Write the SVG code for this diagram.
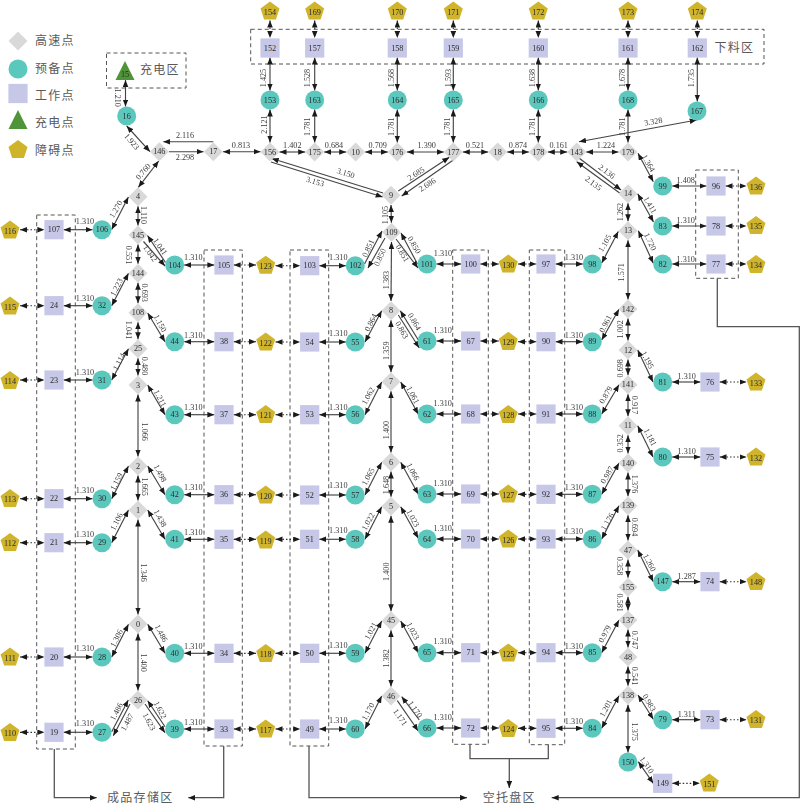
<svg xmlns="http://www.w3.org/2000/svg" width="800" height="804" viewBox="0 0 800 804">
<style>
text{font-family:"Liberation Serif","Noto Serif CJK SC",serif;fill:#3a3a3a;font-size:8.2px;text-anchor:middle;dominant-baseline:central}
.z{font-family:"Liberation Serif","Noto Sans CJK SC",sans-serif;font-size:12px;letter-spacing:1.3px;text-anchor:start;fill:#5a5a5a}
.e line{stroke:#444;stroke-width:1.15;marker-start:url(#a);marker-end:url(#a)}
.e line.o{marker-start:none}
.e line.d{stroke-dasharray:1.5 2;stroke:#333}
.r polyline{fill:none;stroke:#555;stroke-width:1.3}
.r polyline.a{marker-end:url(#a)}
.box{fill:none;stroke:#555;stroke-width:1;stroke-dasharray:4 3}
#labels,#nodes,#legend,#areas{opacity:.995}
#nodes text{fill:#2a2a2a}
</style>
<defs>
<marker id="a" markerUnits="userSpaceOnUse" markerWidth="8" markerHeight="7" refX="7" refY="2.8" orient="auto-start-reverse"><path d="M0 0L7 2.8L0 5.6Z" fill="#1a1a1a"/></marker>
<path id="d" d="M0-9.5L9.5 0L0 9.5L-9.5 0Z" fill="#d9d9d9"/>
<circle id="c" r="9.5" fill="#5bc8bd"/>
<rect id="s" x="-9.6" y="-9.6" width="19.2" height="19.2" fill="#c7c7e8"/>
<path id="t" d="M0-10.5L9.5 8.5L-9.5 8.5Z" fill="#4f9438"/>
<path id="p" d="M0-10L9.5-3.1L5.9 8.1L-5.9 8.1L-9.5-3.1Z" fill="#cfb42b"/>
</defs>
<g id="legend">
<use href="#d" x="18" y="41"/><text class="z" x="35" y="41">高速点</text>
<use href="#c" x="18" y="69"/><text class="z" x="35" y="69">预备点</text>
<use href="#s" x="18" y="93.5"/><text class="z" x="35" y="96">工作点</text>
<use href="#t" x="18" y="120.5"/><text class="z" x="35" y="123">充电点</text>
<use href="#p" x="18" y="150"/><text class="z" x="35" y="151">障碍点</text>
</g>
<g id="areas">
<rect class="box" x="106.5" y="53" width="79.5" height="35"/><text class="z" x="140" y="70">充电区</text>
<rect class="box" x="250.7" y="29.3" width="513.3" height="34.7"/><text class="z" x="714.5" y="48">下料区</text>
<rect class="box" x="695.7" y="170" width="42.6" height="108.3"/>
<rect class="box" x="36.7" y="215" width="38.6" height="534"/>
<rect class="box" x="204" y="250" width="38.3" height="496"/>
<rect class="box" x="290" y="250" width="38.7" height="496"/>
<rect class="box" x="452.7" y="250" width="35.6" height="494.3"/>
<rect class="box" x="529.3" y="250" width="35.4" height="494.7"/>
<text class="z" x="107" y="797.7">成品存储区</text>
<text class="z" x="482.7" y="798">空托盘区</text>
</g>
<g class="r" id="routes">
<polyline class="a" points="54.3,749 54.3,797.7 96.7,797.7"/>
<polyline class="a" points="223.7,746 223.7,797.7 188.3,797.7"/>
<polyline class="a" points="309,746 309,797.7 467,797.7"/>
<polyline points="470,744.3 470,758.7 548.3,758.7 548.3,744.7"/>
<polyline class="a" points="509.3,758.7 509.3,788"/>
<polyline class="a" points="717.3,278.3 717.3,326.7 799.3,326.7 799.3,797.7 551.7,797.7"/>
</g>
<g class="e" id="connectors">
<line x1="125.5" y1="80" x2="125.5" y2="106.5"/>
<line x1="126.7" y1="126" x2="150" y2="151.7"/>
<line x1="158.7" y1="161" x2="138.3" y2="187.3"/>
<line x1="111.7" y1="229.5" x2="128.4" y2="197"/>
<line class="o" x1="213.3" y1="141.7" x2="163.3" y2="141.7"/>
<line class="o" x1="169" y1="151.7" x2="203.5" y2="151.7"/>
<line x1="223" y1="151.7" x2="260.5" y2="151.7"/>
<line x1="279.5" y1="152" x2="305.2" y2="152"/>
<line x1="324.2" y1="152" x2="346.2" y2="152"/>
<line x1="365.2" y1="152" x2="387.8" y2="152"/>
<line x1="406.8" y1="152" x2="443.8" y2="152"/>
<line x1="462.8" y1="152" x2="488.2" y2="152"/>
<line x1="507.2" y1="152" x2="528.8" y2="152"/>
<line x1="547.8" y1="152" x2="567.2" y2="152"/>
<line x1="586.2" y1="152" x2="618.5" y2="152"/>
<line x1="270" y1="109.5" x2="270" y2="142.5"/>
<line x1="270" y1="57.5" x2="270" y2="90.5"/>
<line x1="314.7" y1="57.5" x2="314.7" y2="90.5"/>
<line x1="314.7" y1="109.5" x2="314.7" y2="142.5"/>
<line x1="397.3" y1="57.5" x2="397.3" y2="90.5"/>
<line x1="397.3" y1="109.5" x2="397.3" y2="142.5"/>
<line x1="453.3" y1="57.5" x2="453.3" y2="90.5"/>
<line x1="453.3" y1="109.5" x2="453.3" y2="142.5"/>
<line x1="538.3" y1="57.5" x2="538.3" y2="90.5"/>
<line x1="538.3" y1="109.5" x2="538.3" y2="142.5"/>
<line x1="628" y1="57.5" x2="628" y2="90.5"/>
<line x1="628" y1="109.5" x2="628" y2="142.5"/>
<line x1="697.3" y1="57.5" x2="697.3" y2="101.5"/>
<line class="d" x1="270" y1="20.5" x2="270" y2="38"/>
<line class="d" x1="314.7" y1="20.5" x2="314.7" y2="38"/>
<line class="d" x1="397.3" y1="20.5" x2="397.3" y2="38"/>
<line class="d" x1="453.3" y1="20.5" x2="453.3" y2="38"/>
<line class="d" x1="538.3" y1="20.5" x2="538.3" y2="38"/>
<line class="d" x1="628" y1="20.5" x2="628" y2="38"/>
<line class="d" x1="697.3" y1="20.5" x2="697.3" y2="38"/>
<line class="o" x1="383" y1="193" x2="271.7" y2="158.5"/>
<line class="o" x1="271" y1="162" x2="382.7" y2="197"/>
<line class="o" x1="398.3" y1="191" x2="449.3" y2="157.3"/>
<line class="o" x1="453.3" y1="160" x2="401.7" y2="196"/>
<line class="o" x1="579.3" y1="158.3" x2="621" y2="190"/>
<line class="o" x1="620" y1="193.3" x2="576.7" y2="161.7"/>
<line x1="579" y1="141.7" x2="696.7" y2="120"/>
<line x1="391" y1="205" x2="391.4" y2="222.7"/>
<line x1="391.5" y1="242" x2="391" y2="301"/>
<line class="o" x1="364.5" y1="264" x2="382" y2="231"/>
<line class="o" x1="385" y1="238" x2="368" y2="268"/>
<line class="o" x1="417.5" y1="264" x2="401" y2="233"/>
<line class="o" x1="396" y1="239" x2="418" y2="268"/>
<line x1="638" y1="153.3" x2="653.3" y2="181.7"/>
<line x1="637.7" y1="193.7" x2="653.5" y2="222"/>
<line x1="638.3" y1="230.7" x2="653.3" y2="263.3"/>
<line x1="628" y1="203.2" x2="628" y2="221.2"/>
<line x1="628" y1="240.2" x2="628" y2="299.5"/>
<line x1="601.7" y1="263" x2="618.3" y2="231.5"/>
<line x1="672.2" y1="186" x2="706.5" y2="186"/>
<line x1="672.2" y1="226" x2="706.5" y2="226"/>
<line x1="672.2" y1="264" x2="706.5" y2="264"/>
<line class="d" x1="725.5" y1="186" x2="746.5" y2="186"/>
<line class="d" x1="725.5" y1="226" x2="746.5" y2="226"/>
<line class="d" x1="725.5" y1="264" x2="746.5" y2="264"/>
<line x1="555.5" y1="264" x2="582.8" y2="264"/>
<line x1="555.5" y1="341.7" x2="582.8" y2="341.7"/>
<line x1="555.5" y1="414" x2="582.8" y2="414"/>
<line x1="555.5" y1="494.3" x2="582.8" y2="494.3"/>
<line x1="555.5" y1="539" x2="582.8" y2="539"/>
<line x1="555.5" y1="652.7" x2="582.8" y2="652.7"/>
<line x1="555.5" y1="728.3" x2="582.8" y2="728.3"/>
<line x1="601.7" y1="340" x2="619" y2="309.3"/>
<line x1="628" y1="318.5" x2="628" y2="340.5"/>
<line x1="628" y1="359.5" x2="628" y2="375.2"/>
<line x1="628" y1="394.2" x2="628" y2="416.2"/>
<line x1="628" y1="435.2" x2="628" y2="453.5"/>
<line x1="628" y1="472.5" x2="628" y2="496.2"/>
<line x1="628" y1="515.2" x2="628" y2="540.5"/>
<line x1="628" y1="559.5" x2="628" y2="577.8"/>
<line x1="628" y1="596.8" x2="628" y2="610.5"/>
<line x1="628" y1="629.5" x2="628" y2="647.5"/>
<line x1="628" y1="666.5" x2="628" y2="685.8"/>
<line x1="628" y1="704.8" x2="628" y2="752.5"/>
<line x1="638.3" y1="761.7" x2="653.3" y2="783.3"/>
<line class="d" x1="672.2" y1="783.3" x2="699.8" y2="783.3"/>
<line x1="638" y1="695" x2="653.3" y2="719.3"/>
<line x1="672.2" y1="719.7" x2="700.5" y2="719.7"/>
<line class="d" x1="719.5" y1="719.7" x2="746.5" y2="719.7"/>
<line x1="601.7" y1="728.3" x2="619" y2="695.7"/>
<line x1="601.7" y1="652.7" x2="619" y2="620"/>
<line x1="637.7" y1="550" x2="653.3" y2="581.7"/>
<line x1="672.2" y1="581.7" x2="700.5" y2="581.7"/>
<line class="d" x1="719.5" y1="581.7" x2="746.5" y2="581.7"/>
<line x1="601.7" y1="539" x2="619" y2="505.7"/>
<line x1="601.7" y1="494.3" x2="619" y2="463"/>
<line x1="601.7" y1="414" x2="619" y2="384.7"/>
<line x1="637.7" y1="350" x2="653" y2="382"/>
<line x1="637.7" y1="425.7" x2="653" y2="457"/>
<line x1="672.2" y1="382" x2="700.5" y2="382"/>
<line x1="672.2" y1="457" x2="700.5" y2="457"/>
<line class="d" x1="719.5" y1="382" x2="746.5" y2="382"/>
<line class="d" x1="719.5" y1="457" x2="746.5" y2="457"/>
<line class="d" x1="480.2" y1="264" x2="498.8" y2="264"/>
<line class="d" x1="518" y1="264" x2="536.5" y2="264"/>
<line class="d" x1="480.2" y1="341" x2="498.8" y2="341"/>
<line class="d" x1="518" y1="341.7" x2="536.5" y2="341.7"/>
<line class="d" x1="480.2" y1="414" x2="498.8" y2="414"/>
<line class="d" x1="518" y1="414" x2="536.5" y2="414"/>
<line class="d" x1="480.2" y1="494" x2="498.8" y2="494"/>
<line class="d" x1="518" y1="494.3" x2="536.5" y2="494.3"/>
<line class="d" x1="480.2" y1="539" x2="498.8" y2="539"/>
<line class="d" x1="518" y1="539" x2="536.5" y2="539"/>
<line class="d" x1="480.2" y1="652.7" x2="498.8" y2="652.7"/>
<line class="d" x1="518" y1="652.7" x2="536.5" y2="652.7"/>
<line class="d" x1="480.2" y1="728" x2="498.8" y2="728"/>
<line class="d" x1="518" y1="728.3" x2="536.5" y2="728.3"/>
<line x1="436.5" y1="264" x2="461.2" y2="264"/>
<line x1="436.5" y1="341" x2="461.2" y2="341"/>
<line x1="436.5" y1="414" x2="461.2" y2="414"/>
<line x1="436.5" y1="494" x2="461.2" y2="494"/>
<line x1="436.5" y1="539" x2="461.2" y2="539"/>
<line x1="436.5" y1="652.7" x2="461.2" y2="652.7"/>
<line x1="436.5" y1="728" x2="461.2" y2="728"/>
<line x1="319.2" y1="265.7" x2="345.8" y2="265.7"/>
<line x1="319.2" y1="342" x2="345.8" y2="342"/>
<line x1="319.2" y1="414.7" x2="345.8" y2="414.7"/>
<line x1="319.2" y1="495" x2="345.8" y2="495"/>
<line x1="319.2" y1="539.3" x2="345.8" y2="539.3"/>
<line x1="319.2" y1="653.3" x2="345.8" y2="653.3"/>
<line x1="319.2" y1="729" x2="345.8" y2="729"/>
<line class="d" x1="275.5" y1="265.7" x2="300.2" y2="265.7"/>
<line class="d" x1="275.5" y1="342" x2="300.2" y2="342"/>
<line class="d" x1="275.5" y1="414.7" x2="300.2" y2="414.7"/>
<line class="d" x1="275.5" y1="495" x2="300.2" y2="495"/>
<line class="d" x1="275.5" y1="539.3" x2="300.2" y2="539.3"/>
<line class="d" x1="275.5" y1="653.3" x2="300.2" y2="653.3"/>
<line class="d" x1="275.5" y1="729" x2="300.2" y2="729"/>
<line class="d" x1="233.6" y1="265" x2="256" y2="265"/>
<line class="d" x1="233.6" y1="341.7" x2="256" y2="341.7"/>
<line class="d" x1="233.6" y1="414.7" x2="256" y2="414.7"/>
<line class="d" x1="233.6" y1="494.7" x2="256" y2="494.7"/>
<line class="d" x1="233.6" y1="539.3" x2="256" y2="539.3"/>
<line class="d" x1="233.6" y1="653.3" x2="256" y2="653.3"/>
<line class="d" x1="233.6" y1="729" x2="256" y2="729"/>
<line x1="184.2" y1="265" x2="214.4" y2="265"/>
<line x1="184.2" y1="341.7" x2="214.4" y2="341.7"/>
<line x1="184.2" y1="414.7" x2="214.4" y2="414.7"/>
<line x1="184.2" y1="494.7" x2="214.4" y2="494.7"/>
<line x1="184.2" y1="539.3" x2="214.4" y2="539.3"/>
<line x1="184.2" y1="653.3" x2="214.4" y2="653.3"/>
<line x1="184.2" y1="729" x2="214.4" y2="729"/>
<line x1="63.6" y1="229.7" x2="92.5" y2="229.7"/>
<line x1="63.6" y1="305.7" x2="92.5" y2="305.7"/>
<line x1="63.6" y1="380" x2="92.5" y2="380"/>
<line x1="63.6" y1="498.7" x2="92.5" y2="498.7"/>
<line x1="63.6" y1="542.7" x2="92.5" y2="542.7"/>
<line x1="63.6" y1="657" x2="92.5" y2="657"/>
<line x1="63.6" y1="732.3" x2="92.5" y2="732.3"/>
<line class="d" x1="20" y1="229.7" x2="44.4" y2="229.7"/>
<line class="d" x1="20" y1="305.7" x2="44.4" y2="305.7"/>
<line class="d" x1="20" y1="380" x2="44.4" y2="380"/>
<line class="d" x1="20" y1="498.7" x2="44.4" y2="498.7"/>
<line class="d" x1="20" y1="542.7" x2="44.4" y2="542.7"/>
<line class="d" x1="20" y1="657" x2="44.4" y2="657"/>
<line class="d" x1="20" y1="732.3" x2="44.4" y2="732.3"/>
<line x1="365" y1="342" x2="381.7" y2="310.7"/>
<line class="o" x1="418.3" y1="340" x2="400.3" y2="310.7"/>
<line class="o" x1="398.3" y1="315" x2="419.3" y2="348"/>
<line x1="365" y1="414.7" x2="381.7" y2="382"/>
<line x1="400.7" y1="382" x2="418.3" y2="414.3"/>
<line x1="365" y1="495" x2="381.7" y2="462.3"/>
<line x1="400.7" y1="462.3" x2="418.3" y2="494.3"/>
<line x1="365" y1="539.3" x2="381.7" y2="506.7"/>
<line x1="400.7" y1="506.7" x2="418.3" y2="538.3"/>
<line x1="365" y1="653.3" x2="381.7" y2="621"/>
<line x1="400.7" y1="621" x2="418.3" y2="652.7"/>
<line x1="365" y1="729" x2="381.7" y2="696"/>
<line class="o" x1="419.3" y1="720" x2="401.7" y2="696.7"/>
<line class="o" x1="397.3" y1="700.7" x2="418.3" y2="731"/>
<line x1="391" y1="320.2" x2="391" y2="372.2"/>
<line x1="391" y1="391.2" x2="391" y2="452.5"/>
<line x1="391" y1="471.5" x2="391" y2="496.8"/>
<line x1="391" y1="515.8" x2="391" y2="611.2"/>
<line x1="391" y1="630.2" x2="391" y2="686.5"/>
<line x1="138" y1="206.2" x2="138" y2="225.5"/>
<line x1="138" y1="244.5" x2="138" y2="263.8"/>
<line x1="138" y1="282.8" x2="138" y2="303.2"/>
<line x1="138" y1="322.2" x2="138" y2="339.2"/>
<line x1="138" y1="358.2" x2="138" y2="375.5"/>
<line x1="138" y1="394.5" x2="138" y2="456.5"/>
<line x1="138" y1="475.5" x2="138" y2="500.5"/>
<line x1="138" y1="519.5" x2="138" y2="614.5"/>
<line x1="138" y1="633.5" x2="138" y2="690.5"/>
<line class="o" x1="143.5" y1="241.5" x2="165" y2="266"/>
<line class="o" x1="165.5" y1="262.5" x2="147.5" y2="235.5"/>
<line x1="111.7" y1="305.7" x2="128.5" y2="273.3"/>
<line x1="111.7" y1="380" x2="128.5" y2="348.7"/>
<line x1="111.7" y1="498.7" x2="128.5" y2="466"/>
<line x1="111.7" y1="542.7" x2="128.5" y2="510"/>
<line x1="111.7" y1="657" x2="128.5" y2="624.3"/>
<line class="o" x1="111.7" y1="731.7" x2="128.3" y2="700"/>
<line class="o" x1="130" y1="704" x2="113.3" y2="735.7"/>
<line x1="147.7" y1="313" x2="165" y2="341.7"/>
<line x1="147.7" y1="385" x2="165" y2="414.7"/>
<line x1="147.7" y1="466" x2="165" y2="494.7"/>
<line x1="147.7" y1="510" x2="165" y2="539.3"/>
<line x1="147.7" y1="624.3" x2="165" y2="653.3"/>
<line class="o" x1="165" y1="726.7" x2="147.7" y2="700.7"/>
<line class="o" x1="145" y1="704" x2="165" y2="732.7"/>
</g>
<g id="labels">
<text transform="translate(117.3 97.7) rotate(90)">1.210</text>
<text transform="translate(131.7 141.7) rotate(50)">1.923</text>
<text transform="translate(143.3 171.7) rotate(-50)">0.760</text>
<text transform="translate(116 209.3) rotate(-60)">1.270</text>
<text x="185" y="135">2.116</text><text x="185" y="157.3">2.298</text>
<text x="241" y="145">0.813</text><text x="292.3" y="145">1.402</text><text x="334" y="145">0.684</text><text x="377.7" y="145">0.709</text><text x="426.7" y="145">1.390</text><text x="475" y="145">0.521</text><text x="518" y="145">0.874</text><text x="558.7" y="145">0.161</text><text x="606" y="145">1.224</text>
<text transform="translate(264 124.5) rotate(-90)">2.121</text>
<text transform="translate(263.3 78) rotate(-90)">1.425</text>
<text transform="translate(307.7 78) rotate(-90)">1.528</text>
<text transform="translate(307.7 126.7) rotate(-90)">1.781</text>
<text transform="translate(391.7 78) rotate(-90)">1.568</text>
<text transform="translate(391.7 126.7) rotate(-90)">1.781</text>
<text transform="translate(448 78) rotate(-90)">1.593</text>
<text transform="translate(447.7 126.7) rotate(-90)">1.781</text>
<text transform="translate(532.3 78) rotate(-90)">1.638</text>
<text transform="translate(532 126.7) rotate(-90)">1.781</text>
<text transform="translate(622.3 78) rotate(-90)">1.678</text>
<text transform="translate(622 126.7) rotate(-90)">1.781</text>
<text transform="translate(691.7 78) rotate(-90)">1.735</text>
<text transform="translate(345.7 173.3) rotate(17)">3.150</text>
<text transform="translate(315 181.7) rotate(17)">3.153</text>
<text transform="translate(416 174) rotate(-33)">2.685</text>
<text transform="translate(427.3 185) rotate(-33)">2.686</text>
<text transform="translate(606.7 171.7) rotate(37)">2.136</text>
<text transform="translate(593.3 183.3) rotate(37)">2.135</text>
<text transform="translate(653.3 121.7) rotate(-10)">3.328</text>
<text transform="translate(385 215) rotate(-90)">1.105</text>
<text transform="translate(386.7 280) rotate(-90)">1.383</text>
<text transform="translate(368.3 248.3) rotate(-65)">0.851</text>
<text transform="translate(380 257.3) rotate(-65)">0.850</text>
<text transform="translate(414 245) rotate(60)">0.850</text>
<text transform="translate(402.3 253.3) rotate(60)">0.851</text>
<text transform="translate(160 246.7) rotate(55)">1.041</text>
<text transform="translate(150 253.3) rotate(55)">1.042</text>
<text transform="translate(648.3 163.3) rotate(60)">1.364</text>
<text transform="translate(650 205) rotate(60)">1.411</text>
<text transform="translate(650 241.7) rotate(65)">1.720</text>
<text transform="translate(620.7 212) rotate(-90)">1.262</text>
<text transform="translate(621.7 272.3) rotate(-90)">1.571</text>
<text transform="translate(605 243.3) rotate(-60)">1.105</text>
<text x="685.7" y="180.7">1.408</text><text x="685.7" y="220.5">1.310</text><text x="685.7" y="259">1.310</text>
<text x="574" y="257.3">1.310</text><text x="574" y="335">1.310</text><text x="574" y="407">1.310</text><text x="574" y="487">1.310</text><text x="574" y="531">1.310</text><text x="574" y="646">1.310</text><text x="574" y="721.7">1.310</text>
<text transform="translate(605.7 324) rotate(-63)">0.961</text>
<text transform="translate(620.7 329.3) rotate(-90)">1.002</text>
<text transform="translate(620.7 368.3) rotate(-90)">0.698</text>
<text transform="translate(634.3 405) rotate(90)">0.917</text>
<text transform="translate(620.7 443.3) rotate(-90)">0.352</text>
<text transform="translate(634.3 484) rotate(90)">1.376</text>
<text transform="translate(634.3 527) rotate(90)">0.694</text>
<text transform="translate(619.3 566) rotate(90)">0.358</text>
<text transform="translate(619.3 602.7) rotate(90)">0.581</text>
<text transform="translate(634.3 640) rotate(90)">0.747</text>
<text transform="translate(634.3 676) rotate(90)">0.541</text>
<text transform="translate(634.3 731.7) rotate(90)">1.375</text>
<text transform="translate(646.7 765) rotate(55)">1.310</text>
<text transform="translate(649 702.7) rotate(60)">0.983</text>
<text transform="translate(606 708.3) rotate(-62)">1.201</text>
<text transform="translate(605 634) rotate(-62)">0.979</text>
<text transform="translate(649.3 562.7) rotate(62)">1.260</text>
<text transform="translate(607.7 521.7) rotate(-60)">1.176</text>
<text transform="translate(607.3 475) rotate(-60)">0.987</text>
<text transform="translate(606 395) rotate(-60)">0.879</text>
<text transform="translate(647.3 360) rotate(62)">1.195</text>
<text transform="translate(650 437.3) rotate(62)">1.181</text>
<text x="686.7" y="714">1.311</text><text x="686.7" y="576.5">1.287</text><text x="686.7" y="376.5">1.310</text><text x="686.7" y="451.5">1.310</text>
<text x="443" y="253.3">1.310</text><text x="442.7" y="330">1.310</text><text x="442.7" y="403.3">1.310</text><text x="442.7" y="483.3">1.310</text><text x="442.7" y="528">1.310</text><text x="442.7" y="641">1.310</text><text x="442.7" y="717.7">1.310</text>
<text x="338.3" y="257.3">1.310</text><text x="338.3" y="333.3">1.310</text><text x="338.3" y="407.3">1.310</text><text x="338.3" y="485.7">1.310</text><text x="338.3" y="530.5">1.310</text><text x="338.3" y="645">1.310</text><text x="338.3" y="720">1.310</text>
<text x="193.3" y="257.3">1.310</text><text x="193.3" y="335">1.310</text><text x="193.3" y="407.3">1.310</text><text x="193.3" y="487.7">1.310</text><text x="193.3" y="532.3">1.310</text><text x="193.3" y="646">1.310</text><text x="193.3" y="722">1.310</text>
<text x="85" y="221.7">1.310</text><text x="85" y="298.3">1.310</text><text x="85" y="372.7">1.310</text><text x="85" y="490">1.310</text><text x="85" y="534">1.310</text><text x="85" y="648.3">1.310</text><text x="85" y="723.7">1.310</text>
<text transform="translate(371 322.7) rotate(-62)">0.864</text>
<text transform="translate(414.3 321.7) rotate(60)">0.864</text>
<text transform="translate(401.7 330) rotate(60)">0.863</text>
<text transform="translate(368.3 396) rotate(-62)">1.062</text>
<text transform="translate(412.7 395) rotate(62)">1.061</text>
<text transform="translate(368.3 476.7) rotate(-62)">1.065</text>
<text transform="translate(412.7 471.7) rotate(62)">1.066</text>
<text transform="translate(368.3 521.7) rotate(-62)">1.022</text>
<text transform="translate(412.7 518.3) rotate(62)">1.023</text>
<text transform="translate(371 631) rotate(-62)">1.021</text>
<text transform="translate(412.7 631) rotate(62)">1.023</text>
<text transform="translate(368.3 711.7) rotate(-62)">1.170</text>
<text transform="translate(415 709.3) rotate(55)">1.170</text>
<text transform="translate(400 717.3) rotate(55)">1.171</text>
<text transform="translate(386 350.7) rotate(-90)">1.359</text>
<text transform="translate(386 430) rotate(-90)">1.400</text>
<text transform="translate(386 485) rotate(-90)">1.648</text>
<text transform="translate(386 571.7) rotate(-90)">1.400</text>
<text transform="translate(386 658.3) rotate(-90)">1.382</text>
<text transform="translate(143.3 215) rotate(90)">1.110</text>
<text transform="translate(128.3 255) rotate(90)">0.551</text>
<text transform="translate(144 292.7) rotate(90)">0.693</text>
<text transform="translate(128.3 330) rotate(90)">1.041</text>
<text transform="translate(144 366) rotate(90)">0.480</text>
<text transform="translate(144 431.7) rotate(90)">1.066</text>
<text transform="translate(144 486.7) rotate(90)">1.665</text>
<text transform="translate(143.3 572.7) rotate(90)">1.346</text>
<text transform="translate(143.3 662.7) rotate(90)">1.400</text>
<text transform="translate(116.7 287.3) rotate(-63)">1.223</text>
<text transform="translate(119.3 361.7) rotate(-63)">1.114</text>
<text transform="translate(116.7 481.7) rotate(-63)">1.159</text>
<text transform="translate(116.7 521.7) rotate(-63)">1.106</text>
<text transform="translate(116.7 638.3) rotate(-63)">1.306</text>
<text transform="translate(116.7 711.7) rotate(-62)">1.486</text>
<text transform="translate(127.3 722.3) rotate(-62)">1.487</text>
<text transform="translate(160 323.3) rotate(62)">1.150</text>
<text transform="translate(160 398.3) rotate(62)">1.211</text>
<text transform="translate(160 473.3) rotate(62)">1.498</text>
<text transform="translate(160 518.3) rotate(62)">1.438</text>
<text transform="translate(161 633.3) rotate(62)">1.486</text>
<text transform="translate(160 710) rotate(62)">1.622</text>
<text transform="translate(149 721.7) rotate(62)">1.623</text>
</g>
<g id="nodes">
<g id="n15"><use href="#t" x="125" y="71.5"/><text x="125" y="74">15</text></g>
<g id="n16"><use href="#c" x="126.7" y="116"/><text x="126.7" y="116">16</text></g>
<g id="n146"><use href="#d" x="159.3" y="151.7"/><text x="159.3" y="151.7">146</text></g>
<g id="n17"><use href="#d" x="213.3" y="151.7"/><text x="213.3" y="151.7">17</text></g>
<g id="n156"><use href="#d" x="270" y="152"/><text x="270" y="152">156</text></g>
<g id="n175"><use href="#d" x="314.7" y="152"/><text x="314.7" y="152">175</text></g>
<g id="n10"><use href="#d" x="355.7" y="152"/><text x="355.7" y="152">10</text></g>
<g id="n176"><use href="#d" x="397.3" y="152"/><text x="397.3" y="152">176</text></g>
<g id="n177"><use href="#d" x="453.3" y="152"/><text x="453.3" y="152">177</text></g>
<g id="n18"><use href="#d" x="497.7" y="152"/><text x="497.7" y="152">18</text></g>
<g id="n178"><use href="#d" x="538.3" y="152"/><text x="538.3" y="152">178</text></g>
<g id="n143"><use href="#d" x="576.7" y="152"/><text x="576.7" y="152">143</text></g>
<g id="n179"><use href="#d" x="628" y="152"/><text x="628" y="152">179</text></g>
<g id="n152"><use href="#s" x="270" y="48"/><text x="270" y="48">152</text></g>
<g id="n157"><use href="#s" x="314.7" y="48"/><text x="314.7" y="48">157</text></g>
<g id="n158"><use href="#s" x="397.3" y="48"/><text x="397.3" y="48">158</text></g>
<g id="n159"><use href="#s" x="453.3" y="48"/><text x="453.3" y="48">159</text></g>
<g id="n160"><use href="#s" x="538.3" y="48"/><text x="538.3" y="48">160</text></g>
<g id="n161"><use href="#s" x="628" y="48"/><text x="628" y="48">161</text></g>
<g id="n162"><use href="#s" x="697.3" y="48"/><text x="697.3" y="48">162</text></g>
<g id="n154"><use href="#p" x="270" y="11.5"/><text x="270" y="12">154</text></g>
<g id="n169"><use href="#p" x="314.7" y="11.5"/><text x="314.7" y="12">169</text></g>
<g id="n170"><use href="#p" x="397.3" y="11.5"/><text x="397.3" y="12">170</text></g>
<g id="n171"><use href="#p" x="453.3" y="11.5"/><text x="453.3" y="12">171</text></g>
<g id="n172"><use href="#p" x="538.3" y="11.5"/><text x="538.3" y="12">172</text></g>
<g id="n173"><use href="#p" x="628" y="11.5"/><text x="628" y="12">173</text></g>
<g id="n174"><use href="#p" x="697.3" y="11.5"/><text x="697.3" y="12">174</text></g>
<g id="n153"><use href="#c" x="270" y="100"/><text x="270" y="100">153</text></g>
<g id="n163"><use href="#c" x="314.7" y="100"/><text x="314.7" y="100">163</text></g>
<g id="n164"><use href="#c" x="397.3" y="100"/><text x="397.3" y="100">164</text></g>
<g id="n165"><use href="#c" x="453.3" y="100"/><text x="453.3" y="100">165</text></g>
<g id="n166"><use href="#c" x="538.3" y="100"/><text x="538.3" y="100">166</text></g>
<g id="n168"><use href="#c" x="628" y="100"/><text x="628" y="100">168</text></g>
<g id="n167"><use href="#c" x="697" y="111"/><text x="697" y="111">167</text></g>
<g id="n9"><use href="#d" x="391" y="195.3"/><text x="391" y="195.3">9</text></g>
<g id="n109"><use href="#d" x="391.5" y="232.3"/><text x="391.5" y="232.3">109</text></g>
<g id="n102"><use href="#c" x="355.3" y="265.7"/><text x="355.3" y="265.7">102</text></g>
<g id="n103"><use href="#s" x="309.7" y="265.7"/><text x="309.7" y="265.7">103</text></g>
<g id="n123"><use href="#p" x="265.7" y="265.7"/><text x="265.7" y="266">123</text></g>
<g id="n101"><use href="#c" x="427" y="264"/><text x="427" y="264">101</text></g>
<g id="n100"><use href="#s" x="470.7" y="264"/><text x="470.7" y="264">100</text></g>
<g id="n130"><use href="#p" x="508.3" y="264.5"/><text x="508.3" y="265">130</text></g>
<g id="n97"><use href="#s" x="546" y="264"/><text x="546" y="264">97</text></g>
<g id="n98"><use href="#c" x="592.3" y="264"/><text x="592.3" y="264">98</text></g>
<g id="n13"><use href="#d" x="628" y="230.7"/><text x="628" y="230.7">13</text></g>
<g id="n14"><use href="#d" x="628" y="193.7"/><text x="628" y="193.7">14</text></g>
<g id="n99"><use href="#c" x="662.7" y="186"/><text x="662.7" y="186">99</text></g>
<g id="n96"><use href="#s" x="716" y="186"/><text x="716" y="186">96</text></g>
<g id="n136"><use href="#p" x="756" y="186.5"/><text x="756" y="187">136</text></g>
<g id="n83"><use href="#c" x="662.7" y="226"/><text x="662.7" y="226">83</text></g>
<g id="n78"><use href="#s" x="716" y="226"/><text x="716" y="226">78</text></g>
<g id="n135"><use href="#p" x="756" y="226"/><text x="756" y="226.5">135</text></g>
<g id="n82"><use href="#c" x="662.7" y="264"/><text x="662.7" y="264">82</text></g>
<g id="n77"><use href="#s" x="716" y="264"/><text x="716" y="264">77</text></g>
<g id="n134"><use href="#p" x="756" y="265"/><text x="756" y="265.5">134</text></g>
<g id="n142"><use href="#d" x="628" y="309"/><text x="628" y="309">142</text></g>
<g id="n12"><use href="#d" x="628" y="350"/><text x="628" y="350">12</text></g>
<g id="n141"><use href="#d" x="628" y="384.7"/><text x="628" y="384.7">141</text></g>
<g id="n11"><use href="#d" x="628" y="425.7"/><text x="628" y="425.7">11</text></g>
<g id="n140"><use href="#d" x="628" y="463"/><text x="628" y="463">140</text></g>
<g id="n139"><use href="#d" x="628" y="505.7"/><text x="628" y="505.7">139</text></g>
<g id="n47"><use href="#d" x="628" y="550"/><text x="628" y="550">47</text></g>
<g id="n155"><use href="#d" x="628" y="587.3"/><text x="628" y="587.3">155</text></g>
<g id="n137"><use href="#d" x="628" y="620"/><text x="628" y="620">137</text></g>
<g id="n48"><use href="#d" x="628" y="657"/><text x="628" y="657">48</text></g>
<g id="n138"><use href="#d" x="628" y="695.3"/><text x="628" y="695.3">138</text></g>
<g id="n150"><use href="#c" x="628" y="762"/><text x="628" y="762">150</text></g>
<g id="n89"><use href="#c" x="592.3" y="341.7"/><text x="592.3" y="341.7">89</text></g>
<g id="n90"><use href="#s" x="546" y="341.7"/><text x="546" y="341.7">90</text></g>
<g id="n88"><use href="#c" x="592.3" y="414"/><text x="592.3" y="414">88</text></g>
<g id="n91"><use href="#s" x="546" y="414"/><text x="546" y="414">91</text></g>
<g id="n87"><use href="#c" x="592.3" y="494.3"/><text x="592.3" y="494.3">87</text></g>
<g id="n92"><use href="#s" x="546" y="494.3"/><text x="546" y="494.3">92</text></g>
<g id="n86"><use href="#c" x="592.3" y="539"/><text x="592.3" y="539">86</text></g>
<g id="n93"><use href="#s" x="546" y="539"/><text x="546" y="539">93</text></g>
<g id="n85"><use href="#c" x="592.3" y="652.7"/><text x="592.3" y="652.7">85</text></g>
<g id="n94"><use href="#s" x="546" y="652.7"/><text x="546" y="652.7">94</text></g>
<g id="n84"><use href="#c" x="592.3" y="728.3"/><text x="592.3" y="728.3">84</text></g>
<g id="n95"><use href="#s" x="546" y="728.3"/><text x="546" y="728.3">95</text></g>
<g id="n81"><use href="#c" x="662.7" y="382"/><text x="662.7" y="382">81</text></g>
<g id="n76"><use href="#s" x="710" y="382"/><text x="710" y="382">76</text></g>
<g id="n133"><use href="#p" x="756" y="382.5"/><text x="756" y="383">133</text></g>
<g id="n80"><use href="#c" x="662.7" y="457"/><text x="662.7" y="457">80</text></g>
<g id="n75"><use href="#s" x="710" y="457"/><text x="710" y="457">75</text></g>
<g id="n132"><use href="#p" x="756" y="457.5"/><text x="756" y="458">132</text></g>
<g id="n147"><use href="#c" x="662.7" y="581.7"/><text x="662.7" y="581.7">147</text></g>
<g id="n74"><use href="#s" x="710" y="581.7"/><text x="710" y="581.7">74</text></g>
<g id="n148"><use href="#p" x="756" y="582"/><text x="756" y="582.5">148</text></g>
<g id="n79"><use href="#c" x="662.7" y="719.7"/><text x="662.7" y="719.7">79</text></g>
<g id="n73"><use href="#s" x="710" y="719.7"/><text x="710" y="719.7">73</text></g>
<g id="n131"><use href="#p" x="756" y="720"/><text x="756" y="720.5">131</text></g>
<g id="n149"><use href="#s" x="662.7" y="783.3"/><text x="662.7" y="783.3">149</text></g>
<g id="n151"><use href="#p" x="709.3" y="783.5"/><text x="709.3" y="784">151</text></g>
<g id="n8"><use href="#d" x="391" y="310.7"/><text x="391" y="310.7">8</text></g>
<g id="n7"><use href="#d" x="391" y="381.7"/><text x="391" y="381.7">7</text></g>
<g id="n6"><use href="#d" x="391" y="462"/><text x="391" y="462">6</text></g>
<g id="n5"><use href="#d" x="391" y="506.3"/><text x="391" y="506.3">5</text></g>
<g id="n45"><use href="#d" x="391" y="620.7"/><text x="391" y="620.7">45</text></g>
<g id="n46"><use href="#d" x="391" y="696"/><text x="391" y="696">46</text></g>
<g id="n55"><use href="#c" x="355.3" y="342"/><text x="355.3" y="342">55</text></g>
<g id="n54"><use href="#s" x="309.7" y="342"/><text x="309.7" y="342">54</text></g>
<g id="n122"><use href="#p" x="265.7" y="342.5"/><text x="265.7" y="343">122</text></g>
<g id="n61"><use href="#c" x="427" y="341"/><text x="427" y="341">61</text></g>
<g id="n67"><use href="#s" x="470.7" y="341"/><text x="470.7" y="341">67</text></g>
<g id="n129"><use href="#p" x="508.3" y="341.8"/><text x="508.3" y="342.3">129</text></g>
<g id="n56"><use href="#c" x="355.3" y="414.7"/><text x="355.3" y="414.7">56</text></g>
<g id="n53"><use href="#s" x="309.7" y="414.7"/><text x="309.7" y="414.7">53</text></g>
<g id="n121"><use href="#p" x="265.7" y="415"/><text x="265.7" y="415.5">121</text></g>
<g id="n62"><use href="#c" x="427" y="414"/><text x="427" y="414">62</text></g>
<g id="n68"><use href="#s" x="470.7" y="414"/><text x="470.7" y="414">68</text></g>
<g id="n128"><use href="#p" x="508.3" y="415"/><text x="508.3" y="415.7">128</text></g>
<g id="n57"><use href="#c" x="355.3" y="495"/><text x="355.3" y="495">57</text></g>
<g id="n52"><use href="#s" x="309.7" y="495"/><text x="309.7" y="495">52</text></g>
<g id="n120"><use href="#p" x="265.7" y="495.5"/><text x="265.7" y="496">120</text></g>
<g id="n63"><use href="#c" x="427" y="494"/><text x="427" y="494">63</text></g>
<g id="n69"><use href="#s" x="470.7" y="494"/><text x="470.7" y="494">69</text></g>
<g id="n127"><use href="#p" x="508.3" y="494.5"/><text x="508.3" y="495">127</text></g>
<g id="n58"><use href="#c" x="355.3" y="539.3"/><text x="355.3" y="539.3">58</text></g>
<g id="n51"><use href="#s" x="309.7" y="539.3"/><text x="309.7" y="539.3">51</text></g>
<g id="n119"><use href="#p" x="265.7" y="540.5"/><text x="265.7" y="541">119</text></g>
<g id="n64"><use href="#c" x="427" y="539"/><text x="427" y="539">64</text></g>
<g id="n70"><use href="#s" x="470.7" y="539"/><text x="470.7" y="539">70</text></g>
<g id="n126"><use href="#p" x="508.3" y="539.5"/><text x="508.3" y="540">126</text></g>
<g id="n59"><use href="#c" x="355.3" y="653.3"/><text x="355.3" y="653.3">59</text></g>
<g id="n50"><use href="#s" x="309.7" y="653.3"/><text x="309.7" y="653.3">50</text></g>
<g id="n118"><use href="#p" x="265.7" y="654"/><text x="265.7" y="654.5">118</text></g>
<g id="n65"><use href="#c" x="427" y="652.7"/><text x="427" y="652.7">65</text></g>
<g id="n71"><use href="#s" x="470.7" y="652.7"/><text x="470.7" y="652.7">71</text></g>
<g id="n125"><use href="#p" x="508.3" y="653.5"/><text x="508.3" y="654">125</text></g>
<g id="n60"><use href="#c" x="355.3" y="729"/><text x="355.3" y="729">60</text></g>
<g id="n49"><use href="#s" x="309.7" y="729"/><text x="309.7" y="729">49</text></g>
<g id="n117"><use href="#p" x="265.7" y="729.5"/><text x="265.7" y="730">117</text></g>
<g id="n66"><use href="#c" x="427" y="728"/><text x="427" y="728">66</text></g>
<g id="n72"><use href="#s" x="470.7" y="728"/><text x="470.7" y="728">72</text></g>
<g id="n124"><use href="#p" x="508.3" y="729"/><text x="508.3" y="729.5">124</text></g>
<g id="n4"><use href="#d" x="138" y="196.7"/><text x="138" y="196.7">4</text></g>
<g id="n145"><use href="#d" x="138" y="235"/><text x="138" y="235">145</text></g>
<g id="n144"><use href="#d" x="138" y="273.3"/><text x="138" y="273.3">144</text></g>
<g id="n108"><use href="#d" x="138" y="312.7"/><text x="138" y="312.7">108</text></g>
<g id="n25"><use href="#d" x="138" y="348.7"/><text x="138" y="348.7">25</text></g>
<g id="n3"><use href="#d" x="138" y="385"/><text x="138" y="385">3</text></g>
<g id="n2"><use href="#d" x="138" y="466"/><text x="138" y="466">2</text></g>
<g id="n1"><use href="#d" x="138" y="510"/><text x="138" y="510">1</text></g>
<g id="n0"><use href="#d" x="138" y="624"/><text x="138" y="624">0</text></g>
<g id="n26"><use href="#d" x="138" y="700"/><text x="138" y="700">26</text></g>
<g id="n106"><use href="#c" x="102" y="229.7"/><text x="102" y="229.7">106</text></g>
<g id="n107"><use href="#s" x="54" y="229.7"/><text x="54" y="229.7">107</text></g>
<g id="n116"><use href="#p" x="10" y="230.5"/><text x="10" y="231">116</text></g>
<g id="n104"><use href="#c" x="174.7" y="265"/><text x="174.7" y="265">104</text></g>
<g id="n105"><use href="#s" x="224" y="265"/><text x="224" y="265">105</text></g>
<g id="n32"><use href="#c" x="102" y="305.7"/><text x="102" y="305.7">32</text></g>
<g id="n24"><use href="#s" x="54" y="305.7"/><text x="54" y="305.7">24</text></g>
<g id="n115"><use href="#p" x="10" y="306.5"/><text x="10" y="307">115</text></g>
<g id="n44"><use href="#c" x="174.7" y="341.7"/><text x="174.7" y="341.7">44</text></g>
<g id="n38"><use href="#s" x="224" y="341.7"/><text x="224" y="341.7">38</text></g>
<g id="n31"><use href="#c" x="102" y="380"/><text x="102" y="380">31</text></g>
<g id="n23"><use href="#s" x="54" y="380"/><text x="54" y="380">23</text></g>
<g id="n114"><use href="#p" x="10" y="381"/><text x="10" y="381.5">114</text></g>
<g id="n43"><use href="#c" x="174.7" y="414.7"/><text x="174.7" y="414.7">43</text></g>
<g id="n37"><use href="#s" x="224" y="414.7"/><text x="224" y="414.7">37</text></g>
<g id="n30"><use href="#c" x="102" y="498.7"/><text x="102" y="498.7">30</text></g>
<g id="n22"><use href="#s" x="54" y="498.7"/><text x="54" y="498.7">22</text></g>
<g id="n113"><use href="#p" x="10" y="499"/><text x="10" y="499.5">113</text></g>
<g id="n42"><use href="#c" x="174.7" y="494.7"/><text x="174.7" y="494.7">42</text></g>
<g id="n36"><use href="#s" x="224" y="494.7"/><text x="224" y="494.7">36</text></g>
<g id="n29"><use href="#c" x="102" y="542.7"/><text x="102" y="542.7">29</text></g>
<g id="n21"><use href="#s" x="54" y="542.7"/><text x="54" y="542.7">21</text></g>
<g id="n112"><use href="#p" x="10" y="543"/><text x="10" y="543.5">112</text></g>
<g id="n41"><use href="#c" x="174.7" y="539.3"/><text x="174.7" y="539.3">41</text></g>
<g id="n35"><use href="#s" x="224" y="539.3"/><text x="224" y="539.3">35</text></g>
<g id="n28"><use href="#c" x="102" y="657"/><text x="102" y="657">28</text></g>
<g id="n20"><use href="#s" x="54" y="657"/><text x="54" y="657">20</text></g>
<g id="n111"><use href="#p" x="10" y="657.5"/><text x="10" y="658">111</text></g>
<g id="n40"><use href="#c" x="174.7" y="653.3"/><text x="174.7" y="653.3">40</text></g>
<g id="n34"><use href="#s" x="224" y="653.3"/><text x="224" y="653.3">34</text></g>
<g id="n27"><use href="#c" x="102" y="732.3"/><text x="102" y="732.3">27</text></g>
<g id="n19"><use href="#s" x="54" y="732.3"/><text x="54" y="732.3">19</text></g>
<g id="n110"><use href="#p" x="10" y="733"/><text x="10" y="733.5">110</text></g>
<g id="n39"><use href="#c" x="174.7" y="729"/><text x="174.7" y="729">39</text></g>
<g id="n33"><use href="#s" x="224" y="729"/><text x="224" y="729">33</text></g>
</g>
</svg>
